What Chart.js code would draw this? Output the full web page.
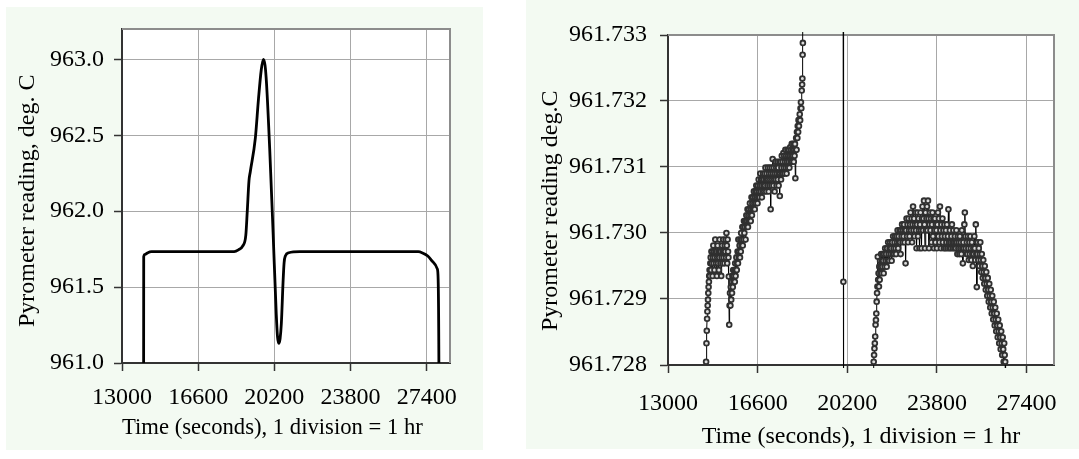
<!DOCTYPE html>
<html>
<head>
<meta charset="utf-8">
<script src="https://cdn.jsdelivr.net/npm/chart.js@4.4.0/dist/chart.umd.min.js"></script>
<style>
  html, body { margin: 0; padding: 0; background: #fff; width: 1079px; height: 459px; overflow: hidden; }
  .panel { position: absolute; background: #f3faf2; }
  #panelL { left: 6px; top: 7px; width: 477px; height: 443px; }
  #panelR { left: 526px; top: 0; width: 553px; height: 449px; }
  canvas { position: absolute; top: 0; }
</style>
</head>
<body>
<div class="panel" id="panelL"></div>
<div class="panel" id="panelR"></div>
<canvas id="cLeft" width="500" height="459" style="left:0"></canvas>
<canvas id="cRight" width="559" height="459" style="left:520px"></canvas>
<script>
/* Pyrometer plateau: full run (left) and zoomed-in readings (right). */

// ---- shared axis data ----
var TIME_TICKS = [13000, 16600, 20200, 23800, 27400];
var TIME_MIN = 13000, TIME_MAX = 28500;

// ---- left chart: whole melt/freeze run ----
var LEFT_Y_TICKS = [961.0, 961.5, 962.0, 962.5, 963.0];
var LEFT_Y_MIN = 961.0, LEFT_Y_MAX = 963.2;
var LEFT_TIME = [14020, 14026, 14090, 14200, 14400, 16000, 18300, 18500, 18700, 18850,
  18920, 19000, 19063, 19300, 19450, 19580, 19680, 19760, 19830, 19980,
  20140, 20290, 20350, 20410, 20470, 20530, 20610, 20660, 20720, 20880,
  21400, 27000, 27200, 27450, 27700, 27900, 27940, 27975, 27985];
var LEFT_READING = [960.5, 961.70, 961.715, 961.725, 961.733, 961.733, 961.734, 961.745, 961.77, 961.84,
  962.0, 962.20, 962.26, 962.48, 962.74, 962.93, 963.0, 962.96, 962.84, 962.41,
  961.86, 961.32, 961.17, 961.13, 961.16, 961.26, 961.53, 961.66, 961.705, 961.726,
  961.733, 961.733, 961.725, 961.705, 961.665, 961.62, 961.55, 961.0, 960.5];

// ---- right chart: zoom on the plateau, [time s, reading degC] ----
var RIGHT_Y_TICKS = [961.728, 961.729, 961.730, 961.731, 961.732, 961.733];
var RIGHT_Y_MIN = 961.728, RIGHT_Y_MAX = 961.733;

var RIGHT_RISE = [
  [14530,961.72805],[14545,961.72833],[14558,961.72852],[14570,961.72870],[14582,961.72881],[14594,961.72890],
  [14606,961.72899],[14618,961.72909],[14630,961.72918],[14643,961.72926],[14656,961.72935],[14670,961.72944],
  [14685,961.72935],[14700,961.72954],[14715,961.72963],[14730,961.72944],[14745,961.72972],[14760,961.72954],
  [14775,961.72972],[14790,961.72935],[14805,961.72963],[14820,961.72981],[14835,961.72954],[14850,961.72972],
  [14866,961.72944],[14882,961.72963],[14898,961.72990],[14914,961.72972],[14930,961.72954],[14946,961.72972],
  [14962,961.72935],[14978,961.72963],[14994,961.72981],[15010,961.72954],[15026,961.72972],[15042,961.72944],
  [15058,961.72963],[15074,961.72990],[15090,961.72972],[15106,961.72954],[15122,961.72972],[15138,961.72935],
  [15154,961.72963],[15170,961.72981],[15186,961.72954],[15202,961.72972],[15218,961.72990],[15234,961.72963],
  [15250,961.72972],[15266,961.72954],[15282,961.72981],[15298,961.72972],[15314,961.72990],[15330,961.72963],
  [15346,961.73000],[15362,961.72981],[15378,961.72954],[15394,961.72990],[15410,961.72972],[15426,961.72963],
  [15442,961.72934],[15458,961.72861],[15474,961.72890],[15490,961.72909],[15506,961.72890],[15522,961.72918],
  [15538,961.72899],[15554,961.72926],[15570,961.72909],[15586,961.72935],[15602,961.72918],[15618,961.72944],
  [15634,961.72926],[15650,961.72935],[15666,961.72944],[15682,961.72926],[15698,961.72954],[15714,961.72935],
  [15730,961.72944],[15746,961.72963],[15762,961.72944],[15778,961.72954],[15794,961.72972],[15810,961.72954],
  [15826,961.72990],[15842,961.72963],[15858,961.72972],[15874,961.72981],[15890,961.72963],[15906,961.72990],
  [15922,961.72972],[15938,961.73000],[15954,961.72981],[15970,961.72990],[15986,961.73009],[16002,961.72981],
  [16018,961.73009],[16034,961.72990],[16050,961.73018],[16066,961.73000],[16082,961.73009],[16098,961.73018],
  [16114,961.72990],[16130,961.73018],[16146,961.73027],[16162,961.73009],[16178,961.73018],[16194,961.73036],
  [16210,961.73009],[16226,961.73027],[16242,961.73018],[16258,961.73036],[16274,961.73018],[16290,961.73045],
  [16306,961.73027],[16322,961.73018],[16338,961.73036],[16354,961.73054],[16370,961.73027],[16386,961.73045],
  [16402,961.73036],[16418,961.73054],[16434,961.73036],[16450,961.73063],[16466,961.73045],[16482,961.73036],
  [16498,961.73054],[16514,961.73063],[16530,961.73045],[16546,961.73072],[16562,961.73054],[16578,961.73063],
  [16594,961.73045],[16610,961.73072],[16626,961.73054],[16642,961.73081],[16658,961.73063],[16674,961.73054],
  [16690,961.73072],[16706,961.73090],[16722,961.73063],[16738,961.73081],[16754,961.73072],[16770,961.73054],
  [16786,961.73081],[16802,961.73063],[16818,961.73090],[16834,961.73072],[16850,961.73081],[16866,961.73063],
  [16882,961.73090],[16898,961.73072],[16914,961.73099],[16930,961.73081],[16946,961.73063],[16962,961.73090],
  [16978,961.73081],[16994,961.73072],[17010,961.73099],[17026,961.73081],[17042,961.73063],[17058,961.73090],
  [17074,961.73072],[17090,961.73099],[17106,961.73081],[17122,961.73036],[17138,961.73090],[17154,961.73072],
  [17170,961.73099],[17186,961.73081],[17202,961.73112],[17218,961.73090],[17234,961.73072],[17250,961.73099],
  [17266,961.73081],[17282,961.73063],[17298,961.73090],[17314,961.73108],[17330,961.73081],[17346,961.73099],
  [17362,961.73072],[17378,961.73090],[17394,961.73108],[17410,961.73081],[17426,961.73099],[17442,961.73072],
  [17458,961.73090],[17474,961.73108],[17490,961.73056],[17506,961.73090],[17522,961.73108],[17538,961.73081],
  [17554,961.73099],[17570,961.73117],[17586,961.73090],[17602,961.73108],[17618,961.73090],[17634,961.73121],
  [17650,961.73099],[17666,961.73117],[17682,961.73090],[17698,961.73108],[17714,961.73126],[17730,961.73099],
  [17746,961.73117],[17762,961.73090],[17778,961.73108],[17794,961.73126],[17810,961.73099],[17826,961.73117],
  [17842,961.73108],[17858,961.73126],[17874,961.73099],[17890,961.73117],[17906,961.73130],[17922,961.73108],
  [17938,961.73126],[17954,961.73117],[17970,961.73135],[17986,961.73108],[18002,961.73126],[18018,961.73117],
  [18034,961.73135],[18050,961.73108],[18066,961.73126],[18082,961.73117],[18098,961.73135],[18114,961.73083],
  [18130,961.73126],[18146,961.73144],[18162,961.73126],[18178,961.73153],[18194,961.73144],[18210,961.73162],
  [18226,961.73153],[18242,961.73171],[18258,961.73162],[18274,961.73171],[18290,961.73180],[18306,961.73171],
  [18322,961.73189],[18338,961.73198],[18354,961.73189],[18370,961.73216],[18386,961.73225],[18396,961.73234],
  [18406,961.73270],[18416,961.73288],[18430,961.73400]
];

var RIGHT_SPIKE = [[20030,961.73450],[20043,961.72926],[20056,961.72700]];

var RIGHT_ARCH = [
  [21245,961.72700],
  [21260,961.72805],[21275,961.72815],[21290,961.72825],[21305,961.72833],[21320,961.72843],[21335,961.72861],
  [21350,961.72868],[21365,961.72878],[21380,961.72896],[21395,961.72909],[21410,961.72919],[21425,961.72964],
  [21440,961.72929],[21455,961.72939],[21470,961.72919],[21485,961.72949],[21500,961.72929],[21515,961.72958],
  [21530,961.72939],[21545,961.72949],[21560,961.72968],[21575,961.72939],[21590,961.72958],[21605,961.72949],
  [21620,961.72968],[21640,961.72958],[21660,961.72939],[21680,961.72968],[21700,961.72949],[21720,961.72977],
  [21740,961.72958],[21760,961.72968],[21780,961.72949],[21800,961.72977],[21820,961.72958],[21840,961.72986],
  [21860,961.72968],[21880,961.72958],[21900,961.72977],[21920,961.72986],[21940,961.72968],[21960,961.72977],
  [21980,961.72958],[22000,961.72986],[22020,961.72968],[22040,961.72995],[22060,961.72977],[22080,961.72968],
  [22100,961.72986],[22120,961.72995],[22140,961.72977],[22160,961.72968],[22180,961.72995],[22200,961.72986],
  [22220,961.73004],[22240,961.72977],[22260,961.72995],[22280,961.72986],[22300,961.73004],[22320,961.72986],
  [22340,961.72968],[22360,961.73004],[22380,961.72995],[22400,961.73013],[22420,961.72986],[22440,961.73004],
  [22460,961.72995],[22480,961.73013],[22500,961.72986],[22520,961.73004],[22540,961.72954],[22560,961.73004],
  [22580,961.73022],[22600,961.72995],[22620,961.73013],[22640,961.72986],[22660,961.73022],[22680,961.73004],
  [22700,961.72995],[22720,961.73013],[22740,961.73031],[22760,961.73004],[22780,961.73022],[22800,961.72986],
  [22820,961.73013],[22840,961.73040],[22860,961.73004],[22880,961.73022],[22900,961.72995],[22920,961.73013],
  [22940,961.73031],[22960,961.73004],[22980,961.72977],[23000,961.73013],[23020,961.73031],[23040,961.72995],
  [23060,961.73022],[23080,961.73004],[23100,961.72977],[23120,961.73013],[23140,961.73031],[23160,961.73004],
  [23180,961.72977],[23200,961.73022],[23220,961.73040],[23240,961.73004],[23260,961.73022],[23280,961.73049],
  [23300,961.73013],[23320,961.72977],[23340,961.73031],[23360,961.73004],[23380,961.73022],[23400,961.73040],
  [23420,961.73004],[23440,961.73049],[23460,961.73022],[23480,961.72977],[23500,961.73013],[23520,961.73031],
  [23540,961.73004],[23560,961.73022],[23580,961.72986],[23600,961.73013],[23620,961.73031],[23640,961.72995],
  [23660,961.73022],[23680,961.72977],[23700,961.73004],[23720,961.73022],[23740,961.72986],[23760,961.73013],
  [23780,961.73004],[23800,961.72977],[23820,961.73013],[23840,961.73031],[23860,961.72995],[23880,961.73022],
  [23900,961.72986],[23920,961.73040],[23940,961.73004],[23960,961.72977],[23980,961.73013],[24000,961.72995],
  [24020,961.73022],[24040,961.72986],[24060,961.73004],[24080,961.72977],[24100,961.73013],[24120,961.72995],
  [24140,961.72977],[24160,961.73004],[24180,961.72986],[24200,961.73013],[24220,961.72977],[24240,961.72995],
  [24260,961.73036],[24280,961.72986],[24300,961.72977],[24320,961.73004],[24340,961.72986],[24360,961.72977],
  [24380,961.72995],[24400,961.73013],[24420,961.72986],[24440,961.72977],[24460,961.73004],[24480,961.72986],
  [24500,961.72977],[24520,961.72995],[24540,961.72986],[24560,961.72977],[24580,961.73004],[24600,961.72986],
  [24620,961.72968],[24640,961.72995],[24660,961.72977],[24680,961.72986],[24700,961.72968],[24720,961.72995],
  [24740,961.72977],[24760,961.72986],[24780,961.72968],[24800,961.73004],[24820,961.72977],[24840,961.72954],
  [24860,961.72986],[24880,961.72977],[24900,961.73013],[24920,961.73031],[24940,961.72995],[24960,961.72977],
  [24980,961.72968],[25000,961.72986],[25020,961.72968],[25040,961.72995],[25060,961.72977],[25080,961.72959],
  [25100,961.72986],[25120,961.72968],[25140,961.72995],[25160,961.72977],[25180,961.72959],[25200,961.72986],
  [25220,961.72968],[25240,961.72950],[25260,961.72977],[25280,961.72968],[25300,961.72995],[25320,961.72977],
  [25340,961.72959],[25360,961.73013],[25380,961.72968],[25400,961.72918],[25420,961.72968],[25440,961.72986],
  [25460,961.72959],[25480,961.72977],[25500,961.72950],[25520,961.72968],[25540,961.72986],[25560,961.72959],
  [25580,961.72941],[25600,961.72968],[25620,961.72950],[25640,961.72932],[25660,961.72959],[25680,961.72941],
  [25700,961.72923],[25720,961.72950],[25740,961.72932],[25760,961.72914],[25780,961.72941],[25800,961.72923],
  [25820,961.72905],[25840,961.72932],[25860,961.72914],[25880,961.72896],[25900,961.72923],[25920,961.72905],
  [25940,961.72887],[25960,961.72914],[25980,961.72896],[26000,961.72878],[26020,961.72905],[26040,961.72887],
  [26060,961.72869],[26080,961.72896],[26100,961.72878],[26120,961.72860],[26140,961.72887],[26160,961.72869],
  [26180,961.72851],[26200,961.72878],[26220,961.72860],[26240,961.72842],[26260,961.72869],[26280,961.72851],
  [26300,961.72833],[26320,961.72860],[26340,961.72842],[26360,961.72824],[26380,961.72851],[26400,961.72833],
  [26420,961.72815],[26440,961.72842],[26460,961.72824],[26480,961.72805],[26500,961.72833],[26520,961.72815],
  [26540,961.72805],[26555,961.72700]
];

// ---- styling ----
var INK = "#000", AXIS = "#333", GRID = "#a8a8a8", FRAME = "#8c8c8c";
var FONT = { family: "'Liberation Serif', 'Times New Roman', serif", size: 24 };

Chart.defaults.font.family = FONT.family;
Chart.defaults.font.size = FONT.size;
Chart.defaults.color = INK;

// white plot area + grey top/right frame, like the spreadsheet original
var plotFrame = {
  id: "plotFrame",
  beforeDraw: function (c) {
    var a = c.chartArea, ctx = c.ctx;
    ctx.save();
    ctx.fillStyle = "#fff";
    ctx.fillRect(a.left, a.top, a.right - a.left, a.bottom - a.top);
    ctx.restore();
  },
  beforeDatasetsDraw: function (c) {
    var a = c.chartArea, ctx = c.ctx;
    ctx.save();
    ctx.strokeStyle = FRAME;
    ctx.lineWidth = 2;
    ctx.beginPath();
    ctx.moveTo(a.left, a.top);
    ctx.lineTo(a.right, a.top);
    ctx.lineTo(a.right, a.bottom);
    ctx.stroke();
    ctx.restore();
  }
};

// titles are centred on the plot; trailing spaces nudge them like the original
function timeAxis(height, tickPad, titlePad, tail) {
  return {
    type: "linear", min: TIME_MIN, max: TIME_MAX,
    afterBuildTicks: function (s) { s.ticks = TIME_TICKS.map(function (v) { return { value: v }; }); },
    afterFit: function (s) { s.height = height; },
    ticks: { autoSkip: false, maxRotation: 0, padding: tickPad, color: INK, font: FONT,
      callback: function (v) { return String(v); } },
    grid: { color: GRID, lineWidth: 1, tickLength: 8, tickColor: AXIS, tickWidth: 1.5 },
    border: { color: AXIS, width: 2 },
    title: { display: true, text: "Time (seconds), 1 division = 1 hr" + (tail || ""), color: INK, font: FONT,
      padding: { top: 0, bottom: titlePad } }
  };
}

function readingAxis(min, max, ticks, digits, width, tickPad, titlePad, text) {
  return {
    type: "linear", min: min, max: max,
    afterBuildTicks: function (s) { s.ticks = ticks.map(function (v) { return { value: v }; }); },
    afterFit: function (s) { s.width = width; },
    ticks: { autoSkip: false, padding: tickPad, color: INK, font: FONT,
      callback: function (v) { return Number(v).toFixed(digits); } },
    grid: { color: GRID, lineWidth: 1, tickLength: 8, tickColor: AXIS, tickWidth: 1.5 },
    border: { color: AXIS, width: 2 },
    title: { display: true, text: text, color: INK, font: FONT, padding: { top: titlePad, bottom: 0 } }
  };
}

function toPoints(list) {
  return list.map(function (p) { return { x: p[0], y: p[1] }; });
}

/* left: the full run */
new Chart(document.getElementById("cLeft"), {
  type: "line",
  data: { datasets: [{
    data: LEFT_TIME.map(function (t, i) { return { x: t, y: LEFT_READING[i] }; }),
    borderColor: INK, borderWidth: 2.8, pointRadius: 0,
    cubicInterpolationMode: "monotone", clip: 0
  }] },
  options: {
    responsive: false, animation: false, events: [],
    layout: { padding: { left: 0, top: 29, right: 50, bottom: 0 } },
    plugins: { legend: { display: false }, tooltip: { enabled: false } },
    scales: {
      x: timeAxis(96, 12, 17, "\u2003\u2009"),
      y: readingAxis(LEFT_Y_MIN, LEFT_Y_MAX, LEFT_Y_TICKS, 1, 122, 10, 13,
        "Pyrometer reading, deg. C\u2009\u2009")
    }
  },
  plugins: [plotFrame]
});

/* right: the plateau at milli-degree scale */
var gapA = { x: 19000, y: null }, gapB = { x: 20600, y: null };
new Chart(document.getElementById("cRight"), {
  type: "line",
  data: { datasets: [{
    data: toPoints(RIGHT_RISE).concat([gapA], toPoints(RIGHT_SPIKE), [gapB], toPoints(RIGHT_ARCH)),
    borderColor: INK, borderWidth: 1, tension: 0, spanGaps: false,
    pointRadius: 2.4, pointBorderWidth: 1.8, pointBorderColor: "#303030", pointBackgroundColor: "#dcdcdc",
    clip: 3
  }] },
  options: {
    responsive: false, animation: false, events: [],
    layout: { padding: { left: 0, top: 35, right: 25, bottom: 0 } },
    plugins: { legend: { display: false }, tooltip: { enabled: false } },
    scales: {
      x: timeAxis(94, 16, 8),
      y: readingAxis(RIGHT_Y_MIN, RIGHT_Y_MAX, RIGHT_Y_TICKS, 3, 148, 13, 16,
        "Pyrometer reading deg.C\u2002\u2009\u2009")
    }
  },
  plugins: [plotFrame]
});
</script>
</body>
</html>
